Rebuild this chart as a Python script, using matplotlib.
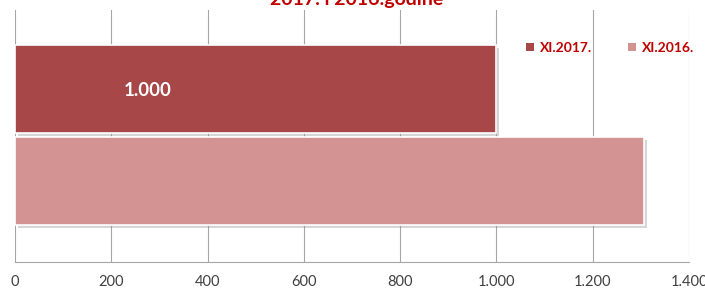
import matplotlib
matplotlib.use("Agg")
import matplotlib.pyplot as plt
import matplotlib.patheffects as pe
from matplotlib.ticker import FuncFormatter
from matplotlib.patches import Patch

series = ["XI.2017.", "XI.2016."]
values = [1000, 1306]
colors = ["#A84747", "#D39393"]
xticks = [0, 200, 400, 600, 800, 1000, 1200, 1400]
title = "2017. i 2016.godine"

plt.rcParams['font.family'] = ['Lato', 'DejaVu Sans']

fig = plt.figure(figsize=(7.05, 2.89), dpi=100)
ax = fig.add_axes([15/705, 27/289, 674/705, 252/289])

ypos = [0.187, -0.18]
h = 0.35
for i, (s, v, c) in enumerate(zip(series, values, colors)):
    ax.barh(ypos[i], v, height=h, color=c, edgecolor="white", linewidth=1.2, zorder=3,
            path_effects=[pe.SimplePatchShadow(offset=(2, -2), shadow_rgbFace="#999999", alpha=0.4), pe.Normal()])

ax.text(276, ypos[0] - 0.008, "1.000", color="white", fontsize=13.5, fontweight="bold", ha="center", va="center", zorder=5)

ax.set_xlim(0, 1400)
ax.set_ylim(-0.5, 0.5)
ax.set_xticks(xticks)
ax.xaxis.set_major_formatter(FuncFormatter(lambda x, p: f"{int(x):,}".replace(",", ".")))
ax.set_yticks([])
ax.grid(axis="x", color="#A6A6A6", linewidth=0.8, zorder=0)
for s in ["top", "right", "left"]:
    ax.spines[s].set_visible(False)
ax.spines["bottom"].set_color("#A6A6A6")
ax.tick_params(axis="x", length=0, labelsize=10.5, labelcolor="#404040", pad=9.5)

handles = [Patch(facecolor=c, edgecolor="none", label=s) for s, c in zip(series, colors)]
leg = fig.legend(handles=handles, loc="center left", ncol=2, frameon=False,
                 bbox_to_anchor=(526/705, 1 - 48/289), borderpad=0, borderaxespad=0,
                 handlelength=0.55, handleheight=0.55, handletextpad=0.45, columnspacing=2.6,
                 prop={"weight": "bold", "size": 10})
for t in leg.get_texts():
    t.set_color("#C00000")

fig.text(357/705, 1 - 5/289, title, ha="center", va="baseline", color="#C00000", fontsize=14, fontweight="bold")

fig.savefig("out.png", dpi=100)
